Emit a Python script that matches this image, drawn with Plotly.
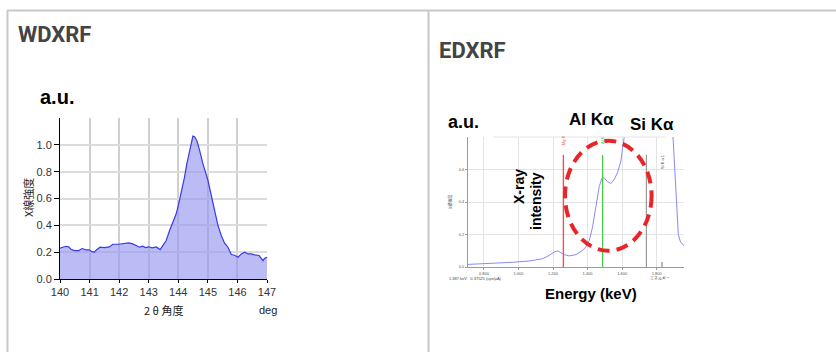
import plotly.graph_objects as go

W, H = 836, 352

# ---------------- data ----------------
# WDXRF: 2θ angle (deg) vs X-ray intensity (a.u.)
wd_angle = [140.000, 140.090, 140.203, 140.294, 140.373, 140.486, 140.632, 140.745, 140.881, 140.994,
            141.073, 141.163, 141.219, 141.355, 141.502, 141.671, 141.784, 141.987, 142.179, 142.326,
            142.461, 142.574, 142.687, 142.800, 142.890, 143.003, 143.116, 143.252, 143.387, 143.477,
            143.590, 143.703, 143.839, 143.929, 144.008, 144.098, 144.211, 144.290, 144.381, 144.437,
            144.494, 144.550, 144.629, 144.719, 144.832, 145.002, 145.115, 145.228, 145.341, 145.453,
            145.566, 145.679, 145.792, 145.905, 146.018, 146.131, 146.244, 146.357, 146.470, 146.583,
            146.730, 146.865, 146.921, 147.000]
wd_intensity = [0.230, 0.237, 0.244, 0.240, 0.222, 0.212, 0.212, 0.227, 0.217, 0.217,
                0.204, 0.200, 0.215, 0.237, 0.234, 0.239, 0.259, 0.259, 0.262, 0.269,
                0.262, 0.249, 0.237, 0.244, 0.234, 0.240, 0.232, 0.239, 0.219, 0.249,
                0.287, 0.360, 0.436, 0.486, 0.554, 0.636, 0.760, 0.860, 0.960, 1.015,
                1.065, 1.060, 1.030, 0.960, 0.860, 0.736, 0.623, 0.511, 0.400, 0.324,
                0.267, 0.237, 0.182, 0.177, 0.162, 0.187, 0.200, 0.187, 0.187, 0.180,
                0.175, 0.137, 0.155, 0.162]
wd_xticks = [140, 141, 142, 143, 144, 145, 146, 147]
wd_yticks = [0.0, 0.2, 0.4, 0.6, 0.8, 1.0]

# EDXRF: energy (keV) vs X-ray intensity
ed_energy = [0.708, 0.794, 0.871, 0.967, 1.063, 1.140, 1.179, 1.208, 1.227, 1.246,
             1.265, 1.294, 1.333, 1.371, 1.390, 1.410, 1.429, 1.448, 1.467, 1.483,
             1.496, 1.515, 1.535, 1.554, 1.573, 1.592, 1.602, 1.608, 1.612, 1.630,
             1.680, 1.740, 1.800, 1.860, 1.896, 1.910, 1.925, 1.938, 1.958]
ed_intensity = [0.016, 0.020, 0.023, 0.029, 0.037, 0.051, 0.072, 0.093, 0.099, 0.088,
                0.076, 0.068, 0.076, 0.103, 0.123, 0.165, 0.247, 0.370, 0.494, 0.545,
                0.549, 0.525, 0.514, 0.539, 0.580, 0.648, 0.720, 0.770, 0.800, 1.300,
                2.600, 3.500, 2.600, 1.300, 0.770, 0.470, 0.200, 0.154, 0.130]
ed_xticks = [0.8, 1.0, 1.2, 1.4, 1.6, 1.8]
ed_xticklabels = ["0.800", "1.000", "1.200", "1.400", "1.600", "1.800"]
ed_yticks = [0.0, 0.2, 0.4, 0.6]
ed_yticklabels = ["0.0", "0.2", "0.4", "0.6"]
ed_lines_energy = [1.26, 1.487, 1.74]
ed_lines_names = ["Mg K", "Al K", "Si K"]
ed_lines_top = 0.69


def px(x):
    return x / W


def py(y):
    return 1 - y / H


fig = go.Figure()

# left chart
fig.add_trace(go.Scatter(
    x=wd_angle, y=wd_intensity, mode="lines", fill="tozeroy",
    line=dict(color="#3a3ae8", width=1.2), fillcolor="rgba(150,150,240,0.65)",
    xaxis="x", yaxis="y", hoverinfo="skip", showlegend=False))

# right chart
fig.add_trace(go.Scatter(
    x=ed_energy, y=ed_intensity, mode="lines",
    line=dict(color="#8a8af2", width=1), xaxis="x2", yaxis="y2",
    hoverinfo="skip", showlegend=False))

line_colors = ["#f05050", "#44cc44", "#858585"]
line_widths = [1.4, 1.2, 1]
for e, c, lw in zip(ed_lines_energy, line_colors, line_widths):
    fig.add_trace(go.Scatter(
        x=[e, e], y=[0, ed_lines_top], mode="lines",
        line=dict(color=c, width=lw), xaxis="x2", yaxis="y2",
        hoverinfo="skip", showlegend=False))

tickfont = dict(family="Liberation Sans, Arial", size=11, color="#333")
tinyfont = dict(family="Liberation Sans, Arial", size=4, color="#555")

fig.update_layout(
    width=W, height=H, margin=dict(l=0, r=0, t=0, b=0, autoexpand=False),
    paper_bgcolor="white", plot_bgcolor="white",
    xaxis=dict(domain=[px(60), px(267)], range=[140, 147], tickvals=wd_xticks,
               showgrid=True, gridcolor="#cfcfcf", gridwidth=2, automargin=False,
               showline=True, linecolor="black", linewidth=1,
               ticks="outside", ticklen=3, tickcolor="black",
               tickfont=tickfont, zeroline=False, fixedrange=True),
    yaxis=dict(domain=[py(279), py(118)], range=[0, 1.2], tickvals=wd_yticks,
               tickformat=".1f", showgrid=True, gridcolor="#dcdcdc", gridwidth=2, automargin=False,
               showline=True, linecolor="black", linewidth=1,
               ticks="outside", ticklen=5, tickcolor="black",
               tickfont=tickfont, zeroline=False, fixedrange=True),
    xaxis2=dict(domain=[px(468), px(684)], range=[0.708, 1.958], tickvals=ed_xticks,
                ticktext=ed_xticklabels, anchor="y2", automargin=False,
                showgrid=True, gridcolor="#e4e4e4", gridwidth=1,
                showline=True, linecolor="#9a9a9a", linewidth=1,
                ticks="outside", ticklen=2, tickcolor="#9a9a9a",
                tickfont=tinyfont, zeroline=False, fixedrange=True),
    yaxis2=dict(domain=[py(267), py(137)], range=[0, 0.8], tickvals=ed_yticks,
                ticktext=ed_yticklabels, anchor="x2", automargin=False,
                showgrid=True, gridcolor="#e4e4e4", gridwidth=1,
                showline=True, linecolor="#9a9a9a", linewidth=1,
                ticks="outside", ticklen=2, tickcolor="#9a9a9a",
                tickfont=tinyfont, zeroline=False, fixedrange=True),
)

# table-like borders
border = dict(color="#c8c8c8", width=2)
shapes = [
    dict(type="line", xref="paper", yref="paper", x0=px(7), x1=1, y0=py(10.5), y1=py(10.5), line=border),
    dict(type="line", xref="paper", yref="paper", x0=px(7.5), x1=px(7.5), y0=py(10), y1=0, line=border),
    dict(type="line", xref="paper", yref="paper", x0=px(428.5), x1=px(428.5), y0=py(10), y1=0, line=border),
    # top faint line of spectrum frame
    dict(type="line", xref="paper", yref="paper", x0=px(493), x1=px(665), y0=py(137), y1=py(137),
         line=dict(color="#e4e4e4", width=1)),
    # small tick near Si label
    dict(type="line", xref="paper", yref="paper", x0=px(662), x1=px(662), y0=py(262), y1=py(267),
         line=dict(color="#777", width=1)),
    # red dashed ellipse
    dict(type="circle", xref="paper", yref="paper",
         x0=px(608.3 - 43.3), x1=px(608.3 + 43.3), y0=py(195.7 + 55), y1=py(195.7 - 55),
         line=dict(color="#e8262a", width=4, dash="12px,7px")),
]
fig.update_layout(shapes=shapes)

ann = []


def add_text(text, x, y, size, color="#000", family="Liberation Sans, Arial", bold=False,
             angle=0, xanchor="center", yanchor="middle"):
    ann.append(dict(text=("<b>%s</b>" % text) if bold else text, x=px(x), y=py(y),
                    xref="paper", yref="paper", showarrow=False, textangle=angle,
                    xanchor=xanchor, yanchor=yanchor,
                    font=dict(size=size, color=color, family=family)))


add_text("WDXRF", 16, 35, 22, color="#444", family="Roboto", bold=True, xanchor="left")
add_text("EDXRF", 437, 50, 22, color="#444", family="Roboto", bold=True, xanchor="left")

# left annotations
add_text("a.u.", 38, 97, 20, bold=True, xanchor="left")
add_text("X線強度", 28, 198, 11, color="#222", family="Noto Sans CJK JP", angle=-90)
add_text("2 θ 角度", 163, 310, 11, color="#222", family="Noto Sans CJK JP")
add_text("deg", 268, 310, 11, color="#222")

# right annotations
add_text("a.u.", 446, 122, 18, bold=True, xanchor="left")
add_text("Al Kα", 591, 119, 17, bold=True)
add_text("Si Kα", 652, 124, 17, bold=True)
add_text("X-ray", 519, 187, 14, bold=True, angle=-90)
add_text("intensity", 536, 201, 14, bold=True, angle=-90)
add_text("Energy (keV)", 591, 293, 15, bold=True)

# tiny labels inside the spectrum screenshot
add_text(ed_lines_names[0], 563, 140, 4, color="#f05050", angle=-90)
add_text(ed_lines_names[1], 602, 140, 4, color="#44cc44", angle=-90)
add_text(ed_lines_names[2] + " α 1", 662, 162, 4, color="#444", angle=-90)
add_text("X線強度", 450, 202, 4, color="#555", family="Noto Sans CJK JP", angle=-90)
add_text("1.387 keV   0.37525 (cps/µA)", 447, 278, 4, color="#444", xanchor="left")
add_text("エネルギー", 660, 278, 4, color="#444", family="Noto Sans CJK JP")

fig.update_layout(annotations=ann)

fig.write_html("out.html", config={"displayModeBar": False},
               post_script="document.body.style.margin='0';document.body.style.overflow='hidden';")
